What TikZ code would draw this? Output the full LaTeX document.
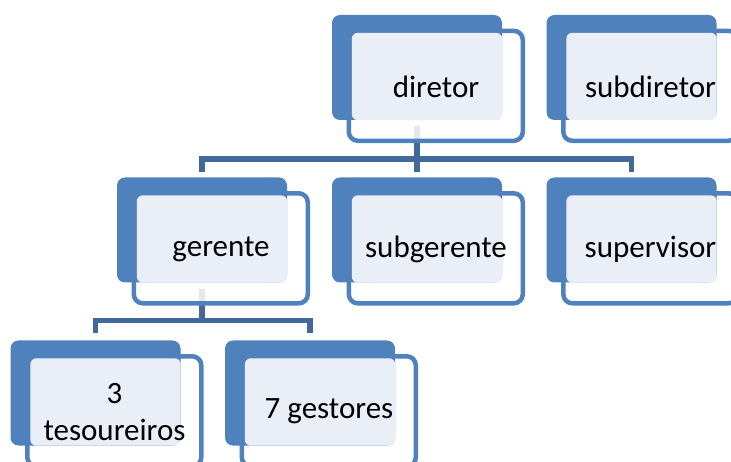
\documentclass[tikz,border=0pt]{standalone}
\usepackage{fontspec}
\setmainfont{Carlito}
\usetikzlibrary{backgrounds}
\definecolor{boxblue}{HTML}{4F81BD}
\definecolor{boxlight}{HTML}{EAEFF7}
\definecolor{linkblue}{HTML}{41699C}

\begin{document}
\begin{tikzpicture}[x=1pt,y=-1pt,
    backbox/.style={fill=boxblue, rounded corners=8pt, minimum width=170pt, minimum height=105pt, inner sep=0pt},
    outerbox/.style={draw=boxblue, line width=4.5pt, fill=white, fill opacity=0.85, draw opacity=1, rounded corners=9pt},
    lightbox/.style={fill=boxlight, rounded corners=6pt},
    boxtext/.style={font=\fontsize{31}{37}\selectfont, align=center, inner sep=0pt},
    link/.style={draw=linkblue, line width=5.5pt, line join=miter}]
        \useasboundingbox (0,0) rectangle (731,462);
        % dark blocks
        \node[backbox] (dir) at (417,67.5) {};
        \node[backbox] (sdir) at (631.5,67.5) {};
        \node[backbox] (ger) at (202,230) {};
        \node[backbox] (sger) at (417,230) {};
        \node[backbox] (sup) at (631.5,230) {};
        \node[backbox] (tes) at (95.5,393) {};
        \node[backbox] (ges) at (310,393) {};
        \begin{scope}[on background layer]
        % connectors
        \draw[link, shorten <=6pt, shorten >=5pt] (dir.south) -- ++(0,39) -| (ger.north);
        \draw[link, shorten <=6pt, shorten >=5pt] (dir.south) -- ++(0,39) -| (sger.north);
        \draw[link, shorten <=6pt, shorten >=5pt] (dir.south) -- ++(0,39) -| (sup.north);
        \draw[link, shorten <=6pt, shorten >=7pt] (ger.south) -- ++(0,38) -| (tes.north);
        \draw[link, shorten <=6pt, shorten >=7pt] (ger.south) -- ++(0,38) -| (ges.north);
        % outlines
        \draw[outerbox] ([xshift=17pt,yshift=-16pt]dir.north west) rectangle ++(174,110);
        \draw[outerbox] ([xshift=17pt,yshift=-16pt]sdir.north west) rectangle ++(174,110);
        \draw[outerbox] ([xshift=17pt,yshift=-16pt]ger.north west) rectangle ++(174,110);
        \draw[outerbox] ([xshift=17pt,yshift=-16pt]sger.north west) rectangle ++(174,110);
        \draw[outerbox] ([xshift=17pt,yshift=-16pt]sup.north west) rectangle ++(174,110);
        \draw[outerbox] ([xshift=17pt,yshift=-16pt]tes.north west) rectangle ++(174,110);
        \draw[outerbox] ([xshift=17pt,yshift=-16pt]ges.north west) rectangle ++(174,110);
        \end{scope}
        % light panels
        \fill[lightbox] ([xshift=20pt,yshift=-18pt]dir.north west) rectangle (dir.south east);
        \fill[lightbox] ([xshift=20pt,yshift=-18pt]sdir.north west) rectangle (sdir.south east);
        \fill[lightbox] ([xshift=20pt,yshift=-18pt]ger.north west) rectangle (ger.south east);
        \fill[lightbox] ([xshift=20pt,yshift=-18pt]sger.north west) rectangle (sger.south east);
        \fill[lightbox] ([xshift=20pt,yshift=-18pt]sup.north west) rectangle (sup.south east);
        \fill[lightbox] ([xshift=20pt,yshift=-18pt]tes.north west) rectangle (tes.south east);
        \fill[lightbox] ([xshift=20pt,yshift=-18pt]ges.north west) rectangle (ges.south east);
        % texts
        \node[boxtext] (dirtxt) at ([xshift=19pt,yshift=-19pt]dir.center) {diretor};
        \node[boxtext] (sdirtxt) at ([xshift=19pt,yshift=-19pt]sdir.center) {subdiretor};
        \node[boxtext] (gertxt) at ([xshift=19pt,yshift=-19pt]ger.center) {gerente};
        \node[boxtext] (sgertxt) at ([xshift=19pt,yshift=-19pt]sger.center) {subgerente};
        \node[boxtext] (suptxt) at ([xshift=19pt,yshift=-19pt]sup.center) {supervisor};
        \node[boxtext] (testxt) at ([xshift=19pt,yshift=-19pt]tes.center) {3\\tesoureiros};
        \node[boxtext] (gestxt) at ([xshift=19pt,yshift=-18pt]ges.center) {7 gestores};
    \end{tikzpicture}
\end{document}
